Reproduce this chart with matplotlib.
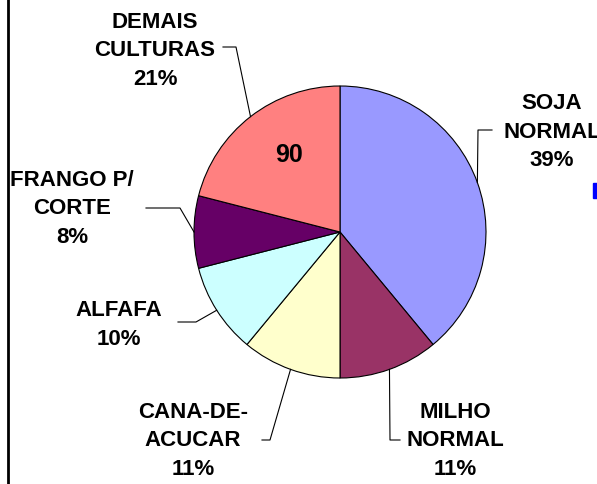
import numpy as np
import matplotlib
matplotlib.use('Agg')
import matplotlib.pyplot as plt
from matplotlib.patches import Rectangle

# ── Data ──────────────────────────────────────────────────────
labels   = ['SOJA\nNORMAL', 'MILHO\nNORMAL', 'CANA-DE-\nACUCAR',
            'ALFAFA', 'FRANGO P/\nCORTE', 'DEMAIS\nCULTURAS']
shares   = [39, 11, 11, 10, 8, 21]
colors   = ['#9999FF', '#993366', '#FFFFCC', '#CCFFFF', '#660066', '#FF8080']
inner_lbl = '90'

W, H = 597, 484
plt.rcParams['font.family'] = ['Liberation Sans', 'DejaVu Sans']

fig = plt.figure(figsize=(W / 100, H / 100), dpi=100)
ax = fig.add_axes([0, 0, 1, 1])

def py(y):
    # pixel row -> data y
    return H - y

cx, cy, r = 340, py(232), 146
wedges, _ = ax.pie(shares, colors=colors, startangle=90, counterclock=False,
                   center=(cx, cy), radius=r, frame=True,
                   wedgeprops=dict(edgecolor='black', linewidth=0.8))
ax.set_xlim(0, W)
ax.set_ylim(0, H)
ax.axis('off')

# label blocks (centre x, centre y in pixels) and elbow points
text_pos = [(552, 132), (455, 441), (193, 441), (119, 325), (72, 209), (155, 51)]
elbows   = [[(492, 130), (478, 130)],
            [(400, 440), (390, 440)],
            [(262, 440), (270, 440)],
            [(178, 322), (196, 322)],
            [(146, 208), (180, 208)],
            [(223, 47), (236, 47)]]

for w, lab, pct, (tx, ty), el in zip(wedges, labels, shares, text_pos, elbows):
    mid = np.deg2rad((w.theta1 + w.theta2) / 2)
    ax_ = cx + r * np.cos(mid)
    ay_ = cy + r * np.sin(mid)
    xs = [el[0][0], el[1][0], ax_]
    ys = [py(el[0][1]), py(el[1][1]), ay_]
    ax.plot(xs, ys, color='black', linewidth=0.8)
    ax.text(tx, py(ty), f'{lab}\n{pct}%', ha='center', va='center',
            fontsize=16, fontweight='bold', linespacing=1.45)

ax.text(289, py(155), inner_lbl, ha='center', va='center',
        fontsize=18, fontweight='bold')

# left border and cut-off blue item on the right edge
ax.plot([8, 8], [0, H], color='black', linewidth=2)
ax.add_patch(Rectangle((593, py(198)), 5, 15, color='#0000FF'))

fig.savefig('out.png', dpi=100)
